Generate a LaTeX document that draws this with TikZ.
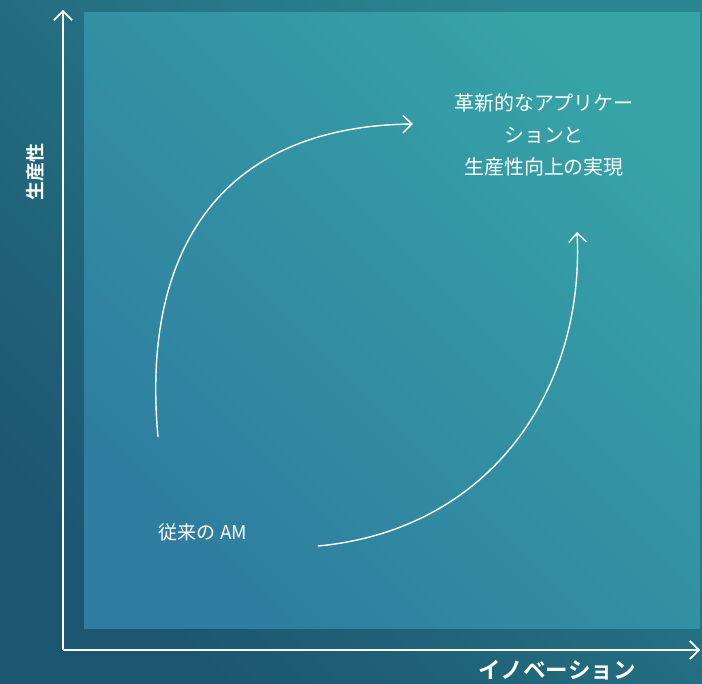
\documentclass[tikz,border=0pt]{standalone}
\usepackage{fontspec}
\usetikzlibrary{arrows.meta}
\newfontfamily\jpfont{Noto Sans CJK JP}
\newfontfamily\jpbold{Noto Sans CJK JP Bold}

\definecolor{bgdark}{HTML}{1C5670}
\definecolor{bglight}{HTML}{2B8591}
\definecolor{paneldark}{HTML}{2F7DA0}
\definecolor{panellight}{HTML}{36A3A6}

\tikzset{
    axis/.style={white, line width=1.4pt, -{Straight Barb[length=6.5pt,width=13pt,line width=1.2pt]}},
    path arrow/.style={white, line width=1pt, -{Straight Barb[length=6.5pt,width=12.5pt,line width=1pt]}},
    label text/.style={text=white, inner sep=0pt}
}

\begin{document}
\begin{tikzpicture}[x=0.025cm, y=-0.025cm, font=\jpfont]
    \useasboundingbox (0,0) rectangle (702,683);
    % background and panel
    \shade[left color=bglight, right color=bgdark, shading angle=-45] (0,0) rectangle (702,683);
    \shade[left color=panellight, right color=paneldark, shading angle=-45] (84,13) rectangle (700,628);

    % axes
    \coordinate (origin) at (63,650);
    \coordinate (ytop) at (63,10);
    \coordinate (xend) at (700,650);
    \draw[axis] (origin) -- (ytop);
    \draw[axis] (origin) -- (xend);
    \node[label text, rotate=90, font=\jpbold\fontsize{13.5}{16}\selectfont] (ylabel) at (35,172) {生産性};
    \node[label text, font=\jpbold\fontsize{16}{19}\selectfont] (xlabel) at (557,670) {イノベーション};

    % labels
    \node[label text, align=center, font=\jpfont\fontsize{14.2}{22.7}\selectfont] (goal) at (544,135) {革新的なアプリケー\\ションと\\生産性向上の実現};
    \node[label text, font=\jpfont\fontsize{13.5}{16}\selectfont] (am) at (203,532) {従来の AM};

    % curved arrows
    \coordinate (upstart) at (158,437);
    \coordinate (upend) at (413,124);
    \coordinate (lowstart) at (318,546);
    \coordinate (lowend) at (577,232);
    \draw[path arrow] (upstart) .. controls (140,240) and (230,126) .. (upend);
    \draw[path arrow] (lowstart) .. controls (490,530) and (585,390) .. (lowend);
\end{tikzpicture}
\end{document}
